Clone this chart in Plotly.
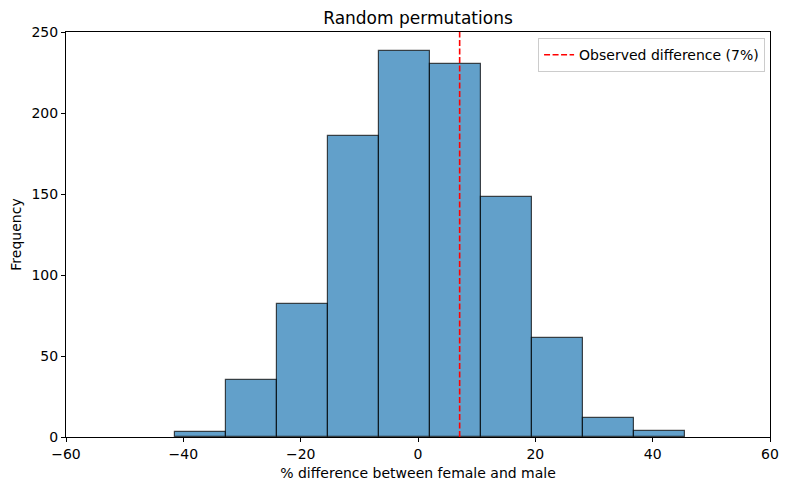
import numpy as np
import plotly.graph_objects as go

# histogram of permutation differences (counts)
bin_edges = [-41.4, -32.71, -24.02, -15.33, -6.64, 2.05, 10.74, 19.43, 28.12, 36.81, 45.5]
counts = [3, 35, 82, 186, 238, 230, 148, 61, 12, 4]
observed_diff = 7.1

x_ticks = [-60, -40, -20, 0, 20, 40, 60]
y_ticks = [0, 50, 100, 150, 200, 250]

edges = np.array(bin_edges)
centers = (edges[:-1] + edges[1:]) / 2
widths = np.diff(edges)

data = []
trace_hist = go.Bar(
    x=centers, y=counts, width=widths,
    marker=dict(color='rgba(31,119,180,0.7)',
                line=dict(color='rgba(0,0,0,0.7)', width=1.2)),
    showlegend=False, name='permutations')
data.append(trace_hist)

trace_obs = go.Scatter(
    x=[observed_diff, observed_diff], y=[0, 250], mode='lines',
    line=dict(color='red', dash='6px,2.5px', width=1.6),
    name='Observed difference (7%)')
data.append(trace_obs)

axis_style = dict(showline=True, linecolor='black', linewidth=1, mirror=True,
                  ticks='outside', ticklen=4, tickcolor='black',
                  showgrid=False, zeroline=False,
                  tickfont=dict(size=14, color='black'))

layout = go.Layout(
    width=790, height=490,
    font=dict(family='DejaVu Sans', color='black'),
    paper_bgcolor='white', plot_bgcolor='white',
    margin=dict(l=66, r=20, t=32, b=53),
    title=dict(text='Random permutations', x=0.5, xref='paper', xanchor='center',
               y=0.963, yanchor='middle', font=dict(size=17)),
    xaxis=dict(range=[-60, 60], tickvals=x_ticks,
               title=dict(text='% difference between female and male', font=dict(size=14), standoff=7),
               **axis_style),
    yaxis=dict(range=[0, 250], tickvals=y_ticks,
               title=dict(text='Frequency', font=dict(size=14), standoff=6),
               **axis_style),
    legend=dict(x=0.993, y=0.985, xanchor='right', yanchor='top',
                bgcolor='white', bordercolor='#cccccc', borderwidth=1,
                font=dict(size=14), itemwidth=30,
                tracegroupgap=0),
    bargap=0,
)

fig = go.Figure(data=data, layout=layout)
# drop the page's default body margin so the figure sits at the window origin
fig.write_html("out.html", config={'displayModeBar': False},
               post_script="document.body.style.margin='0';document.body.style.overflow='hidden';")
